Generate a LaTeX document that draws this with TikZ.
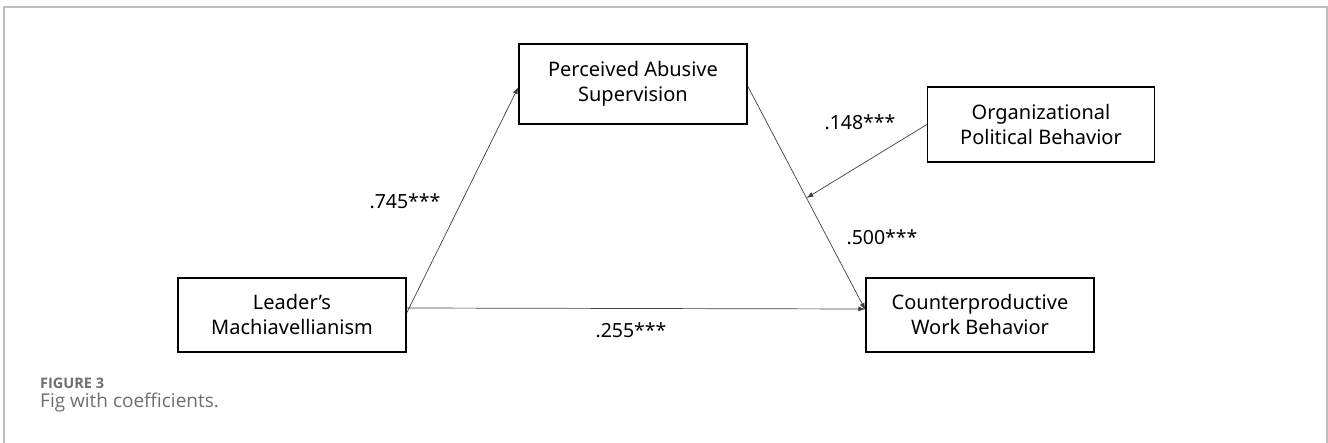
\documentclass[tikz,border=0pt]{standalone}
\usepackage{fontspec}
\setmainfont{Noto Sans}
\newfontfamily\capfont{Open Sans}
\usepackage{tikz}
\usetikzlibrary{arrows.meta}

\definecolor{framegray}{RGB}{190,190,190}
\definecolor{capgray}{RGB}{110,110,110}

\tikzset{
    varbox/.style={draw, line width=1.3pt, minimum width=228pt, minimum height=74pt,
        align=center, font=\fontsize{20}{25}\selectfont, inner sep=0pt},
    effect/.style={->, draw=black!75, line width=0.7pt, >={Latex[length=7pt,width=5pt]}},
    coef/.style={font=\fontsize{19.5}{22}\selectfont}
}

\begin{document}
\begin{tikzpicture}[x=1pt, y=-1pt]
    \useasboundingbox (0,0) rectangle (1328,443);

    % Frame
    \draw[framegray, line width=2pt] (4,443) -- (4,7) -- (1327,7) -- (1327,443);

    % Variables
    \node[varbox, minimum height=80pt] (pas) at (633,84) {Perceived Abusive\\Supervision};
    \node[varbox, minimum height=75pt, minimum width=227pt] (opb) at (1041,124.5) {Organizational\\Political Behavior};
    \node[varbox] (lm) at (292,315) {Leader's\\Machiavellianism};
    \node[varbox] (cwb) at (980,315) {Counterproductive\\Work Behavior};

    % Paths
    \draw[effect] ([yshift=2pt]lm.east) -- ([yshift=-3pt]pas.west);
    \draw[effect] ([yshift=-2pt]pas.east) -- coordinate[pos=0.5] (mod) ([yshift=5pt]cwb.west);
    \draw[effect] (lm.east |- 0,308) -- (cwb.west |- 0,309);
    \draw[effect] (opb.west) -- (mod);

    % Coefficients
    \node[coef] (a) at (405,201) {.745***};
    \node[coef] (m) at (860,122) {.148***};
    \node[coef] (b) at (882,237) {.500***};
    \node[coef] (c) at (631,330) {.255***};

    % Caption
    \node[capgray, font=\capfont\bfseries\fontsize{14.5}{16}\selectfont, anchor=west, inner sep=0pt] (fig) at (40,383) {FIGURE 3};
    \node[capgray, font=\capfont\fontsize{19}{22}\selectfont, anchor=west, inner sep=0pt] (cap) at (40,403) {Fig with coefficients.};
\end{tikzpicture}
\end{document}
